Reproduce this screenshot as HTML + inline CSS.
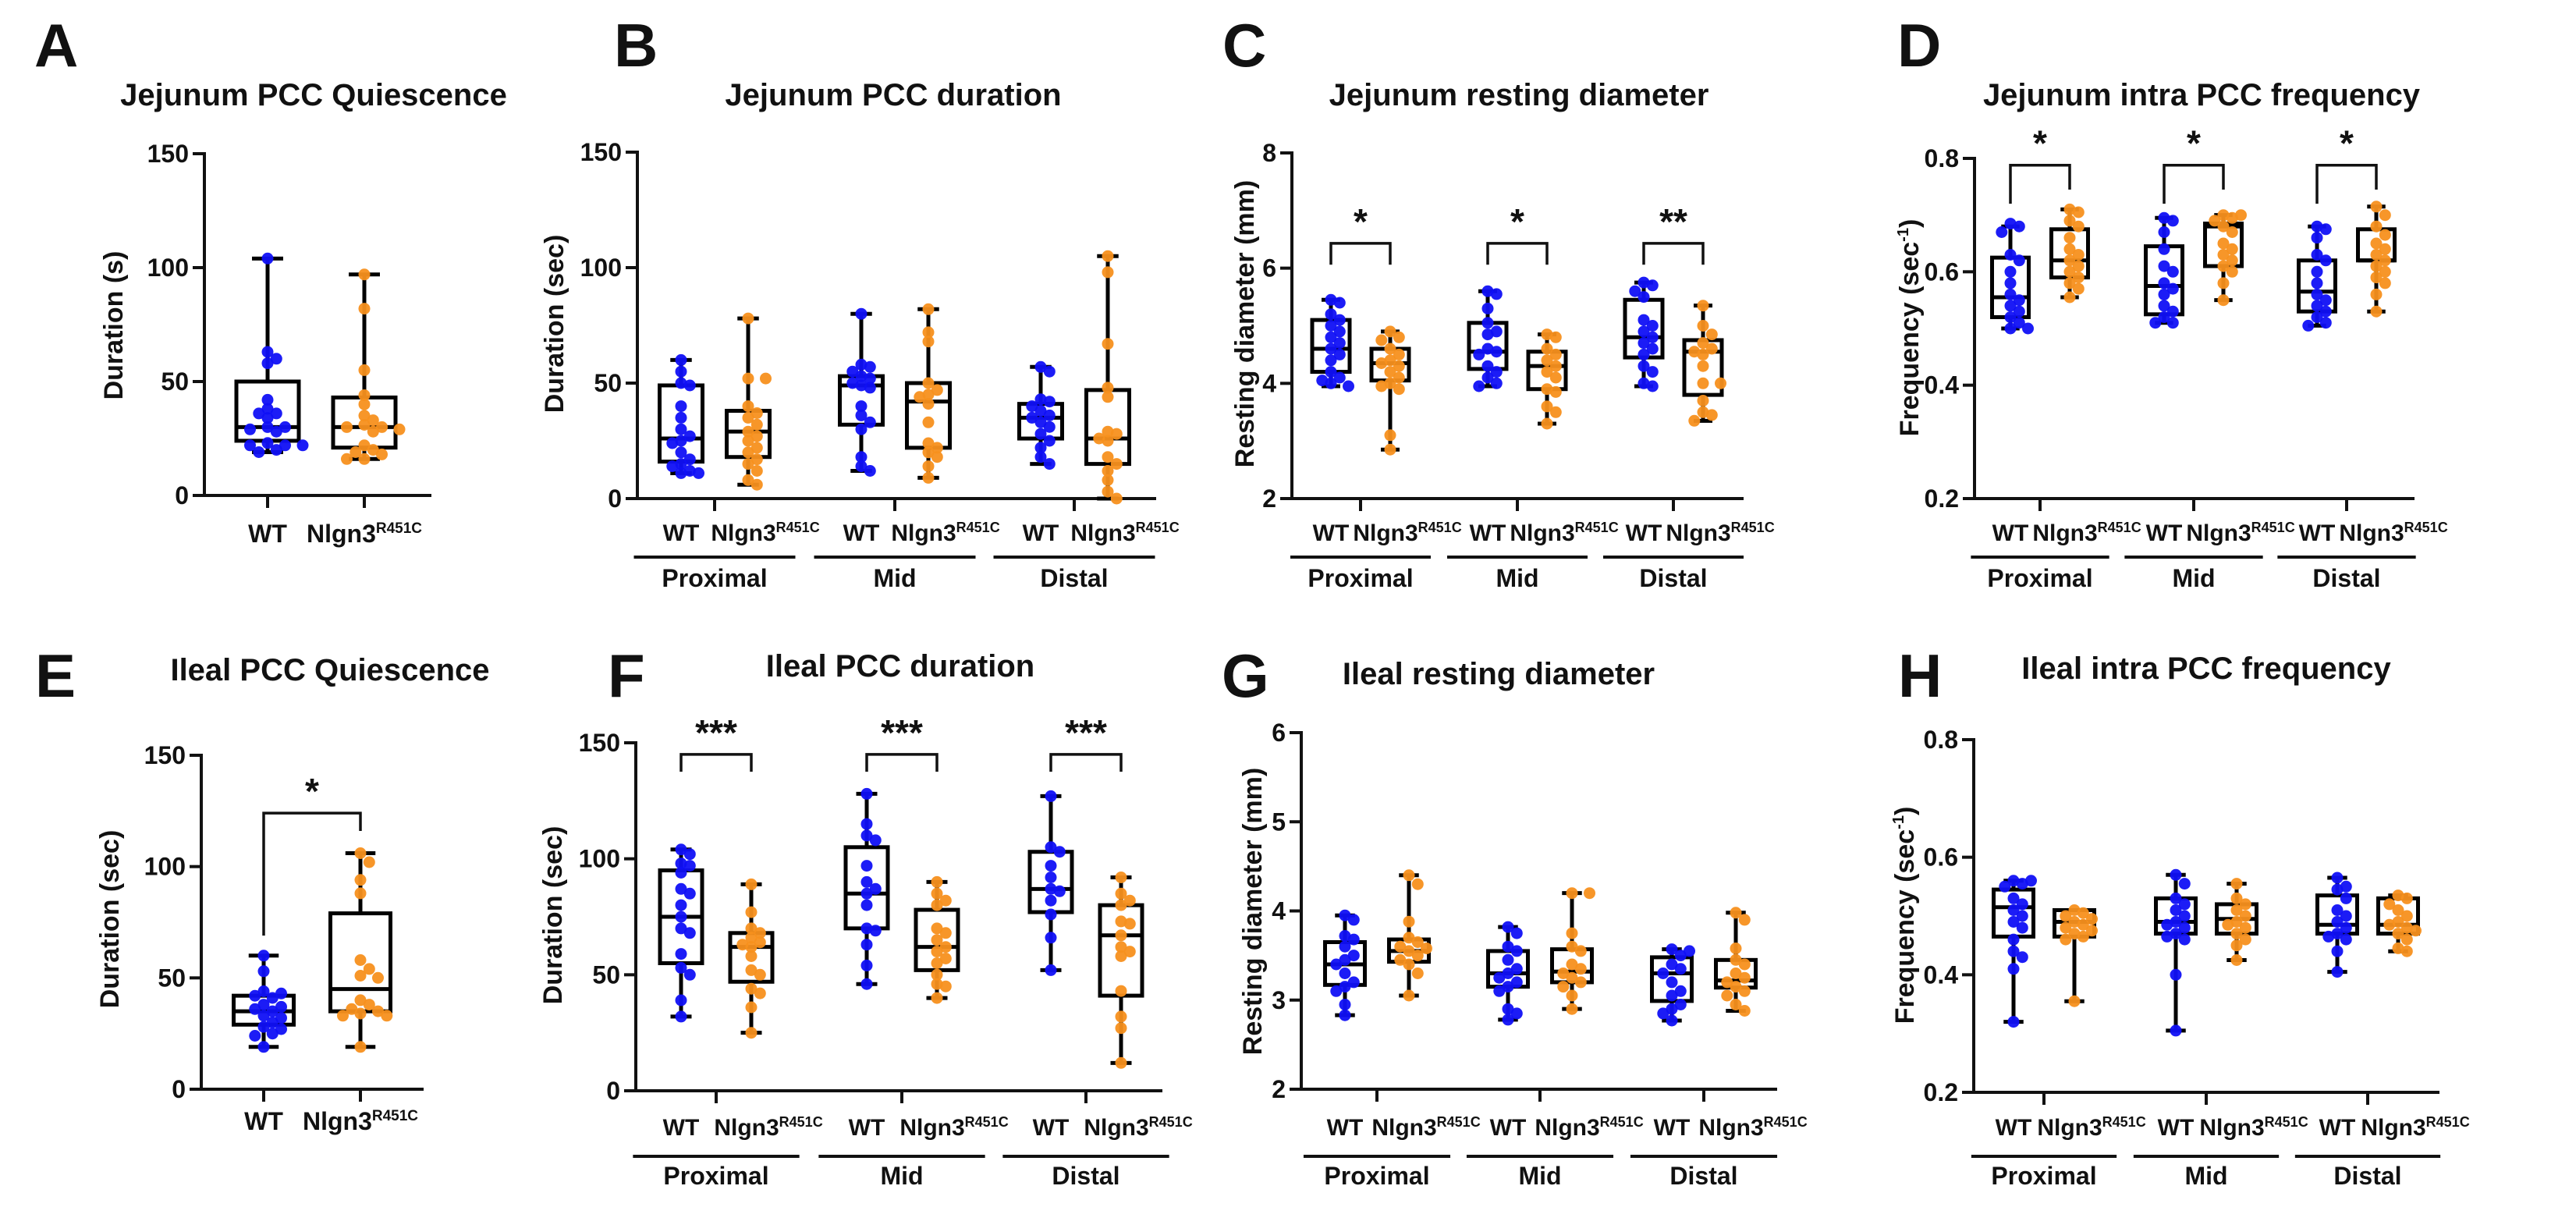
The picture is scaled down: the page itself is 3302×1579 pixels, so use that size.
<!DOCTYPE html>
<html><head><meta charset="utf-8"><title>Nlgn3 PCC figure</title>
<style>
html,body{margin:0;padding:0;background:#fff;}
svg{display:block;font-family:"Liberation Sans",Arial,sans-serif;}
</style></head>
<body>
<svg id="fig" width="3302" height="1579" viewBox="0 0 3302 1579" xmlns="http://www.w3.org/2000/svg"></svg>
<script>
// ---------- DATA ----------
const yTicksDur = ["0","50","100","150"];
const yTicksDiamJ = ["2","4","6","8"];
const yTicksFreq = ["0.2","0.4","0.6","0.8"];
const yTicksDiamI = ["2","3","4","5","6"];
const groupsSeg = ["Proximal","Mid","Distal"];

// A: Jejunum PCC Quiescence  [min,q1,med,q3,max]
const A_box = [[19,24,30,50,104],[16,21,30,43,97]];
const A_wt = [104,63,60,58,42,38,36,36,34,30,30,29,28,23,22,22,22,20,19];
const A_mut = [97,82,55,44,40,35,33,31,30,30,29,28,22,20,19,18,16,16];

// B: Jejunum PCC duration
const B_box = [[11,16,26,49,60],[6,18,29,38,78],[12,32,49,53,80],[9,22,42,50,82],[15,26,35,41,57],[0,15,26,47,105]];
const B_pts = [
 [60,55,50,49,40,35,30,27,25,24,20,17,15,14,12,11,11],
 [78,52,52,40,37,35,32,29,27,25,22,20,17,15,12,8,6],
 [80,58,57,55,53,52,50,49,48,40,36,33,30,18,14,12],
 [82,72,68,50,47,45,44,41,33,24,22,20,18,14,9],
 [57,55,43,42,40,38,36,35,33,31,28,25,22,18,15],
 [105,98,67,48,44,29,28,26,25,18,15,12,8,3,0]];

// C: Jejunum resting diameter
const C_box = [[3.95,4.2,4.6,5.1,5.45],[2.85,4.05,4.35,4.6,4.9],[3.95,4.25,4.55,5.05,5.6],[3.3,3.9,4.3,4.55,4.85],[3.95,4.45,4.8,5.45,5.75],[3.35,3.8,4.55,4.75,5.35]];
const C_pts = [
 [5.45,5.4,5.2,5.1,5.0,4.9,4.8,4.7,4.6,4.5,4.4,4.2,4.1,4.05,4.0,3.95],
 [4.9,4.8,4.75,4.6,4.5,4.4,4.35,4.3,4.2,4.1,4.0,3.95,3.9,3.1,2.85],
 [5.6,5.55,5.3,5.05,4.9,4.85,4.6,4.55,4.5,4.3,4.2,4.1,4.0,3.95],
 [4.85,4.8,4.6,4.5,4.4,4.3,4.2,4.1,3.9,3.85,3.6,3.5,3.3],
 [5.75,5.7,5.6,5.5,5.1,5.0,4.9,4.8,4.7,4.6,4.5,4.3,4.2,4.0,3.95],
 [5.35,5.0,4.85,4.7,4.6,4.55,4.5,4.3,4.0,4.0,3.7,3.5,3.45,3.35]];
const C_sig = ["*","*","**"];
const C_brk = [[6.43,6.06,6.06],[6.43,6.06,6.06],[6.43,6.06,6.06]];

// D: Jejunum intra PCC frequency
const D_box = [[0.50,0.52,0.555,0.625,0.68],[0.555,0.59,0.62,0.675,0.71],[0.51,0.525,0.575,0.645,0.695],[0.55,0.61,0.68,0.685,0.70],[0.505,0.53,0.565,0.62,0.68],[0.53,0.62,0.62,0.675,0.715]];
const D_pts = [
 [0.685,0.68,0.67,0.63,0.62,0.60,0.58,0.56,0.55,0.54,0.53,0.52,0.51,0.50,0.50],
 [0.71,0.705,0.69,0.68,0.66,0.64,0.63,0.62,0.61,0.60,0.59,0.58,0.57,0.555],
 [0.695,0.69,0.67,0.64,0.61,0.60,0.58,0.57,0.56,0.54,0.53,0.52,0.51,0.51],
 [0.70,0.70,0.695,0.69,0.68,0.67,0.65,0.64,0.63,0.62,0.61,0.60,0.58,0.55],
 [0.68,0.675,0.66,0.63,0.62,0.60,0.58,0.56,0.55,0.54,0.53,0.52,0.51,0.505],
 [0.715,0.70,0.68,0.665,0.65,0.64,0.63,0.62,0.61,0.60,0.59,0.58,0.56,0.53]];
const D_sig = ["*","*","*"];
const D_brk = [[0.788,0.72,0.745],[0.788,0.72,0.745],[0.788,0.72,0.745]];

// E: Ileal PCC Quiescence
const E_box = [[19,29,35,42,60],[19,35,45,79,106]];
const E_wt = [60,53,44,43,42,41,38,37,36,35,33,32,30,28,27,25,24,19];
const E_mut = [106,102,94,88,58,54,51,50,40,38,36,35,34,33,33,19];
const E_sig = ["*"];
const E_brk = [[124,69,116]];

// F: Ileal PCC duration
const F_box = [[32,55,75,95,104],[25,47,62,68,89],[46,70,85,105,128],[40,52,62,78,90],[52,77,87,103,127],[12,41,67,80,92]];
const F_pts = [
 [104,102,98,97,94,87,85,80,75,70,68,59,53,50,39,32],
 [89,77,70,68,66,64,63,62,58,52,50,44,42,36,25],
 [128,115,110,108,97,90,87,85,80,70,69,63,54,46],
 [90,85,82,80,70,68,65,62,60,57,55,50,46,45,40],
 [127,105,103,97,92,87,86,82,76,66,52],
 [92,85,82,80,73,72,67,62,60,58,43,32,27,12]];
const F_sig = ["***","***","***"];
const F_brk = [[145,137.5,137.5],[145,137.5,137.5],[145,137.5,137.5]];

// G: Ileal resting diameter
const G_box = [[2.83,3.17,3.4,3.65,3.95],[3.05,3.43,3.55,3.68,4.4],[2.78,3.15,3.3,3.55,3.82],[2.9,3.2,3.32,3.57,4.2],[2.77,2.99,3.3,3.48,3.57],[2.88,3.14,3.22,3.45,3.98]];
const G_pts = [
 [3.95,3.9,3.72,3.68,3.6,3.5,3.45,3.4,3.3,3.2,3.15,3.1,2.95,2.83],
 [4.4,4.3,3.88,3.7,3.65,3.6,3.58,3.55,3.5,3.45,3.4,3.3,3.05],
 [3.82,3.75,3.6,3.55,3.45,3.35,3.3,3.25,3.2,3.15,3.1,2.9,2.85,2.78],
 [4.2,4.2,3.75,3.6,3.55,3.4,3.35,3.3,3.25,3.2,3.15,3.05,2.9],
 [3.57,3.55,3.5,3.4,3.35,3.3,3.2,3.1,3.05,2.95,2.9,2.85,2.77],
 [3.98,3.9,3.58,3.45,3.4,3.3,3.25,3.2,3.15,3.1,3.05,2.95,2.88]];

// H: Ileal intra PCC frequency
const H_box = [[0.32,0.465,0.515,0.545,0.56],[0.355,0.465,0.49,0.51,0.51],[0.305,0.47,0.49,0.53,0.57],[0.425,0.47,0.495,0.52,0.555],[0.405,0.47,0.485,0.535,0.565],[0.44,0.47,0.485,0.53,0.535]];
const H_pts = [
 [0.56,0.56,0.555,0.55,0.53,0.52,0.51,0.50,0.49,0.48,0.46,0.44,0.43,0.41,0.32],
 [0.51,0.505,0.50,0.495,0.49,0.485,0.48,0.475,0.47,0.465,0.46,0.355],
 [0.57,0.555,0.53,0.52,0.51,0.50,0.49,0.485,0.48,0.47,0.465,0.46,0.40,0.305],
 [0.555,0.53,0.52,0.51,0.50,0.49,0.485,0.48,0.47,0.46,0.45,0.425],
 [0.565,0.55,0.545,0.53,0.51,0.50,0.49,0.48,0.47,0.465,0.46,0.44,0.405],
 [0.535,0.53,0.52,0.51,0.50,0.49,0.485,0.48,0.475,0.47,0.46,0.445,0.44]];

// ---------- DRAWING ----------
const NS = "http://www.w3.org/2000/svg";
const svg = document.getElementById("fig");
const BLUE = "#1010f5", ORANGE = "#f7901e";
function el(tag, attrs, parent){
  const e = document.createElementNS(NS, tag);
  for (const k in attrs) e.setAttribute(k, attrs[k]);
  (parent||svg).appendChild(e);
  return e;
}
function txt(parent, x, y, s, size, anchor, name){
  const t = el("text", {x:x, y:y, "font-size":size, "font-weight":"bold", "text-anchor":anchor||"middle", fill:"#111"}, parent);
  
  
  t.textContent = s;
  return t;
}
function supText(parent, x, y, base, sup, size, anchor, name, rot, tail){
  const t = el("text", {x:x, y:y, "font-size":size, "font-weight":"bold", "text-anchor":anchor||"middle", fill:"#111"}, parent);
  if (rot) t.setAttribute("transform", rot);
  
  
  const a = el("tspan", {}, t); a.textContent = base;
  const b = el("tspan", {"font-size":Math.round(size*0.6), dy:-Math.round(size*0.38)}, t); b.textContent = sup;
  if (tail){ const c = el("tspan", {dy:Math.round(size*0.38)}, t); c.textContent = tail; }
  return t;
}
function swarm(vals, ys, cx, r, maxHalf){
  const placed = [];
  const order = vals.map((v,i)=>i).sort((a,b)=>vals[b]-vals[a]);
  const out = new Array(vals.length);
  order.forEach(i=>{
    const y = ys(vals[i]);
    let best = cx;
    for (let k=0;k<12;k++){
      const off = (k===0?0:(k%2?1:-1)*Math.ceil(k/2))*r*1.5;
      if (Math.abs(off) > maxHalf) continue;
      const x = cx+off;
      if (placed.every(p=>Math.hypot(p[0]-x,p[1]-y) >= r*1.55)){ best = x; break; }
      best = x;
    }
    placed.push([best,y]); out[i]=[best,y];
  });
  return out;
}
function drawBox(g, cx, bw, st, ys, name){
  const [mn,q1,md,q3,mx] = st.map(ys);
  const gb = el("g", {}, g);
  
  
  const sw = 5;
  el("line",{x1:cx,y1:mx,x2:cx,y2:q3,stroke:"#000","stroke-width":sw},gb);
  el("line",{x1:cx,y1:q1,x2:cx,y2:mn,stroke:"#000","stroke-width":sw},gb);
  el("line",{x1:cx-bw/4,y1:mx,x2:cx+bw/4,y2:mx,stroke:"#000","stroke-width":sw},gb);
  el("line",{x1:cx-bw/4,y1:mn,x2:cx+bw/4,y2:mn,stroke:"#000","stroke-width":sw},gb);
  el("rect",{x:cx-bw/2,y:q3,width:bw,height:Math.max(1,q1-q3),fill:"none",stroke:"#000","stroke-width":sw},gb);
  el("line",{x1:cx-bw/2,y1:md,x2:cx+bw/2,y2:md,stroke:"#000","stroke-width":sw},gb);
}
function drawPoints(g, cx, bw, vals, ys, color, name){
  const pts = swarm(vals, ys, cx, 7.5, bw*0.62);
  pts.forEach(p=>{
    const c = el("circle",{cx:p[0].toFixed(1),cy:p[1].toFixed(1),r:7.5,fill:color,"fill-opacity":0.95},g);
    
    
  });
}
function drawPanel(cfg){
  const g = el("g",{});
  
  
  const n = cfg.ticks.length;
  const ymin = parseFloat(cfg.ticks[0]), ymax = parseFloat(cfg.ticks[n-1]);
  const ys = v => cfg.y0 - (v-ymin)/(ymax-ymin)*(cfg.y0-cfg.ytop);
  txt(g, cfg.letterX, cfg.letterY, cfg.letter, 78, "start", "panel-letter-"+cfg.letter.toLowerCase());
  txt(g, cfg.titleX, cfg.titleY, cfg.title, 40, "middle", "panel-title");
  const ax = el("g",{},g);
  
  
  el("line",{x1:cfg.ax,y1:cfg.ytop-2,x2:cfg.ax,y2:cfg.y0+2,stroke:"#111","stroke-width":4},ax);
  cfg.ticks.forEach(t=>{
    const y = ys(parseFloat(t));
    el("line",{x1:cfg.ax-15,y1:y,x2:cfg.ax,y2:y,stroke:"#111","stroke-width":4},ax);
    txt(ax, cfg.ax-20, y+11, t, 32, "end", "y-tick-label");
  });
  const xa = el("line",{x1:cfg.ax-15,y1:cfg.y0,x2:cfg.xend,y2:cfg.y0,stroke:"#111","stroke-width":4},g);
  
  
  const yx = cfg.yTitleX, yy = cfg.yTitleY;
  if (cfg.ySup) supText(g, 0, 0, cfg.yTitle, cfg.ySup, 34, "middle", "y-axis-title", "translate("+(yx+12)+","+yy+") rotate(-90)", ")");
  else { const t = txt(g, 0, 0, cfg.yTitle, 34, "middle", "y-axis-title"); t.setAttribute("transform","translate("+(yx+12)+","+yy+") rotate(-90)"); }
  const boxes = cfg.box, pts = cfg.pts;
  const centers = [];
  if (cfg.cats){
    cfg.cats.forEach(c=>centers.push(c));
    cfg.cats.forEach(c=>el("line",{x1:c,y1:cfg.y0,x2:c,y2:cfg.y0+16,stroke:"#111","stroke-width":4},g));
    txt(g, cfg.cats[0], cfg.labY, "WT", 32, "middle", "x-label-wt");
    supText(g, cfg.cats[1], cfg.labY, "Nlgn3", "R451C", 32, "middle", "x-label-nlgn3");
  } else {
    cfg.gTicks.forEach((gt,gi)=>{
      centers.push(gt-cfg.off, gt+cfg.off);
      el("line",{x1:gt,y1:cfg.y0,x2:gt,y2:cfg.y0+16,stroke:"#111","stroke-width":4},g);
      txt(g, gt-cfg.off, cfg.labY, "WT", 30, "middle", "x-label-wt");
      supText(g, gt+cfg.off+22, cfg.labY, "Nlgn3", "R451C", 30, "middle", "x-label-nlgn3");
      const half = cfg.spacing*0.45;
      const ul = el("line",{x1:gt-half,y1:cfg.ulY,x2:gt+half,y2:cfg.ulY,stroke:"#111","stroke-width":4},g);
      
      
      txt(g, gt, cfg.grpY, groupsSeg[gi], 32, "middle", "group-label-"+groupsSeg[gi].toLowerCase());
    });
  }
  boxes.forEach((b,i)=>{
    drawBox(g, centers[i], cfg.bw, b, ys, i%2? "box-nlgn3":"box-wt");
  });
  pts.forEach((p,i)=>{
    drawPoints(g, centers[i], cfg.bw, p, ys, i%2?ORANGE:BLUE, i%2?"point-nlgn3":"point-wt");
  });
  if (cfg.sig){
    cfg.sig.forEach((s,i)=>{
      const b = cfg.brk[i], xl = centers[2*i], xr = centers[2*i+1];
      const bg = el("g",{},g);
      
      
      el("path",{d:"M"+xl+","+ys(b[1])+" L"+xl+","+ys(b[0])+" L"+xr+","+ys(b[0])+" L"+xr+","+ys(b[2]),fill:"none",stroke:"#111","stroke-width":3.5},bg);
      txt(bg, (xl+xr)/2, ys(b[0])-cfg.starGap, s, 46, "middle", "significance-stars");
    });
  }
}
const R1 = {labY:693, ulY:714, grpY:752};
const R2 = {labY:1455, ulY:1482, grpY:1518};
drawPanel({name:"panel-a",letter:"A",letterX:44,letterY:85,title:"Jejunum PCC Quiescence",titleX:402,titleY:135,
  ax:262,y0:635,ytop:197,xend:553,ticks:yTicksDur,yTitle:"Duration (s)",yTitleX:145,yTitleY:417,
  cats:[343,467],bw:80,labY:695,box:A_box,pts:[A_wt,A_mut]});
drawPanel(Object.assign({name:"panel-b",letter:"B",letterX:787,letterY:85,title:"Jejunum PCC duration",titleX:1145,titleY:135,
  ax:817,y0:639,ytop:195,xend:1482,ticks:yTicksDur,yTitle:"Duration (sec)",yTitleX:710,yTitleY:415,
  gTicks:[916,1147,1377],off:43,spacing:230,bw:55,box:B_box,pts:B_pts},R1));
drawPanel(Object.assign({name:"panel-c",letter:"C",letterX:1567,letterY:85,title:"Jejunum resting diameter",titleX:1947,titleY:135,
  ax:1656,y0:639,ytop:196,xend:2235,ticks:yTicksDiamJ,yTitle:"Resting diameter (mm)",yTitleX:1595,yTitleY:415,
  gTicks:[1744,1945,2145],off:38,spacing:200,bw:48,box:C_box,pts:C_pts,sig:C_sig,brk:C_brk,starGap:12},R1));
drawPanel(Object.assign({name:"panel-d",letter:"D",letterX:2432,letterY:85,title:"Jejunum intra PCC frequency",titleX:2822,titleY:135,
  ax:2531,y0:639,ytop:203,xend:3095,ticks:yTicksFreq,yTitle:"Frequency (sec",ySup:"-1",yTitleX:2447,yTitleY:420,
  gTicks:[2615,2812,3008],off:38,spacing:197,bw:47,box:D_box,pts:D_pts,sig:D_sig,brk:D_brk,starGap:12},R1));
drawPanel({name:"panel-e",letter:"E",letterX:45,letterY:893,title:"Ileal PCC Quiescence",titleX:423,titleY:872,
  ax:258,y0:1396,ytop:968,xend:543,ticks:yTicksDur,yTitle:"Duration (sec)",yTitleX:140,yTitleY:1178,
  cats:[338,462],bw:77,labY:1448,box:E_box,pts:[E_wt,E_mut],sig:E_sig,brk:E_brk,starGap:12});
drawPanel(Object.assign({name:"panel-f",letter:"F",letterX:779,letterY:893,title:"Ileal PCC duration",titleX:1154,titleY:867,
  ax:815,y0:1398,ytop:952,xend:1490,ticks:yTicksDur,yTitle:"Duration (sec)",yTitleX:708,yTitleY:1173,
  gTicks:[918,1156,1392],off:45,spacing:237,bw:54,box:F_box,pts:F_pts,sig:F_sig,brk:F_brk,starGap:12},R2));
drawPanel(Object.assign({name:"panel-g",letter:"G",letterX:1566,letterY:893,title:"Ileal resting diameter",titleX:1921,titleY:877,
  ax:1668,y0:1396,ytop:939,xend:2278,ticks:yTicksDiamI,yTitle:"Resting diameter (mm)",yTitleX:1605,yTitleY:1168,
  gTicks:[1765,1974,2184],off:41,spacing:209,bw:51,box:G_box,pts:G_pts},R2));
drawPanel(Object.assign({name:"panel-h",letter:"H",letterX:2433,letterY:893,title:"Ileal intra PCC frequency",titleX:2828,titleY:870,
  ax:2530,y0:1400,ytop:948,xend:3127,ticks:yTicksFreq,yTitle:"Frequency (sec",ySup:"-1",yTitleX:2441,yTitleY:1173,
  gTicks:[2620,2828,3035],off:39,spacing:207,bw:51,box:H_box,pts:H_pts},R2));
</script>
</body></html>
